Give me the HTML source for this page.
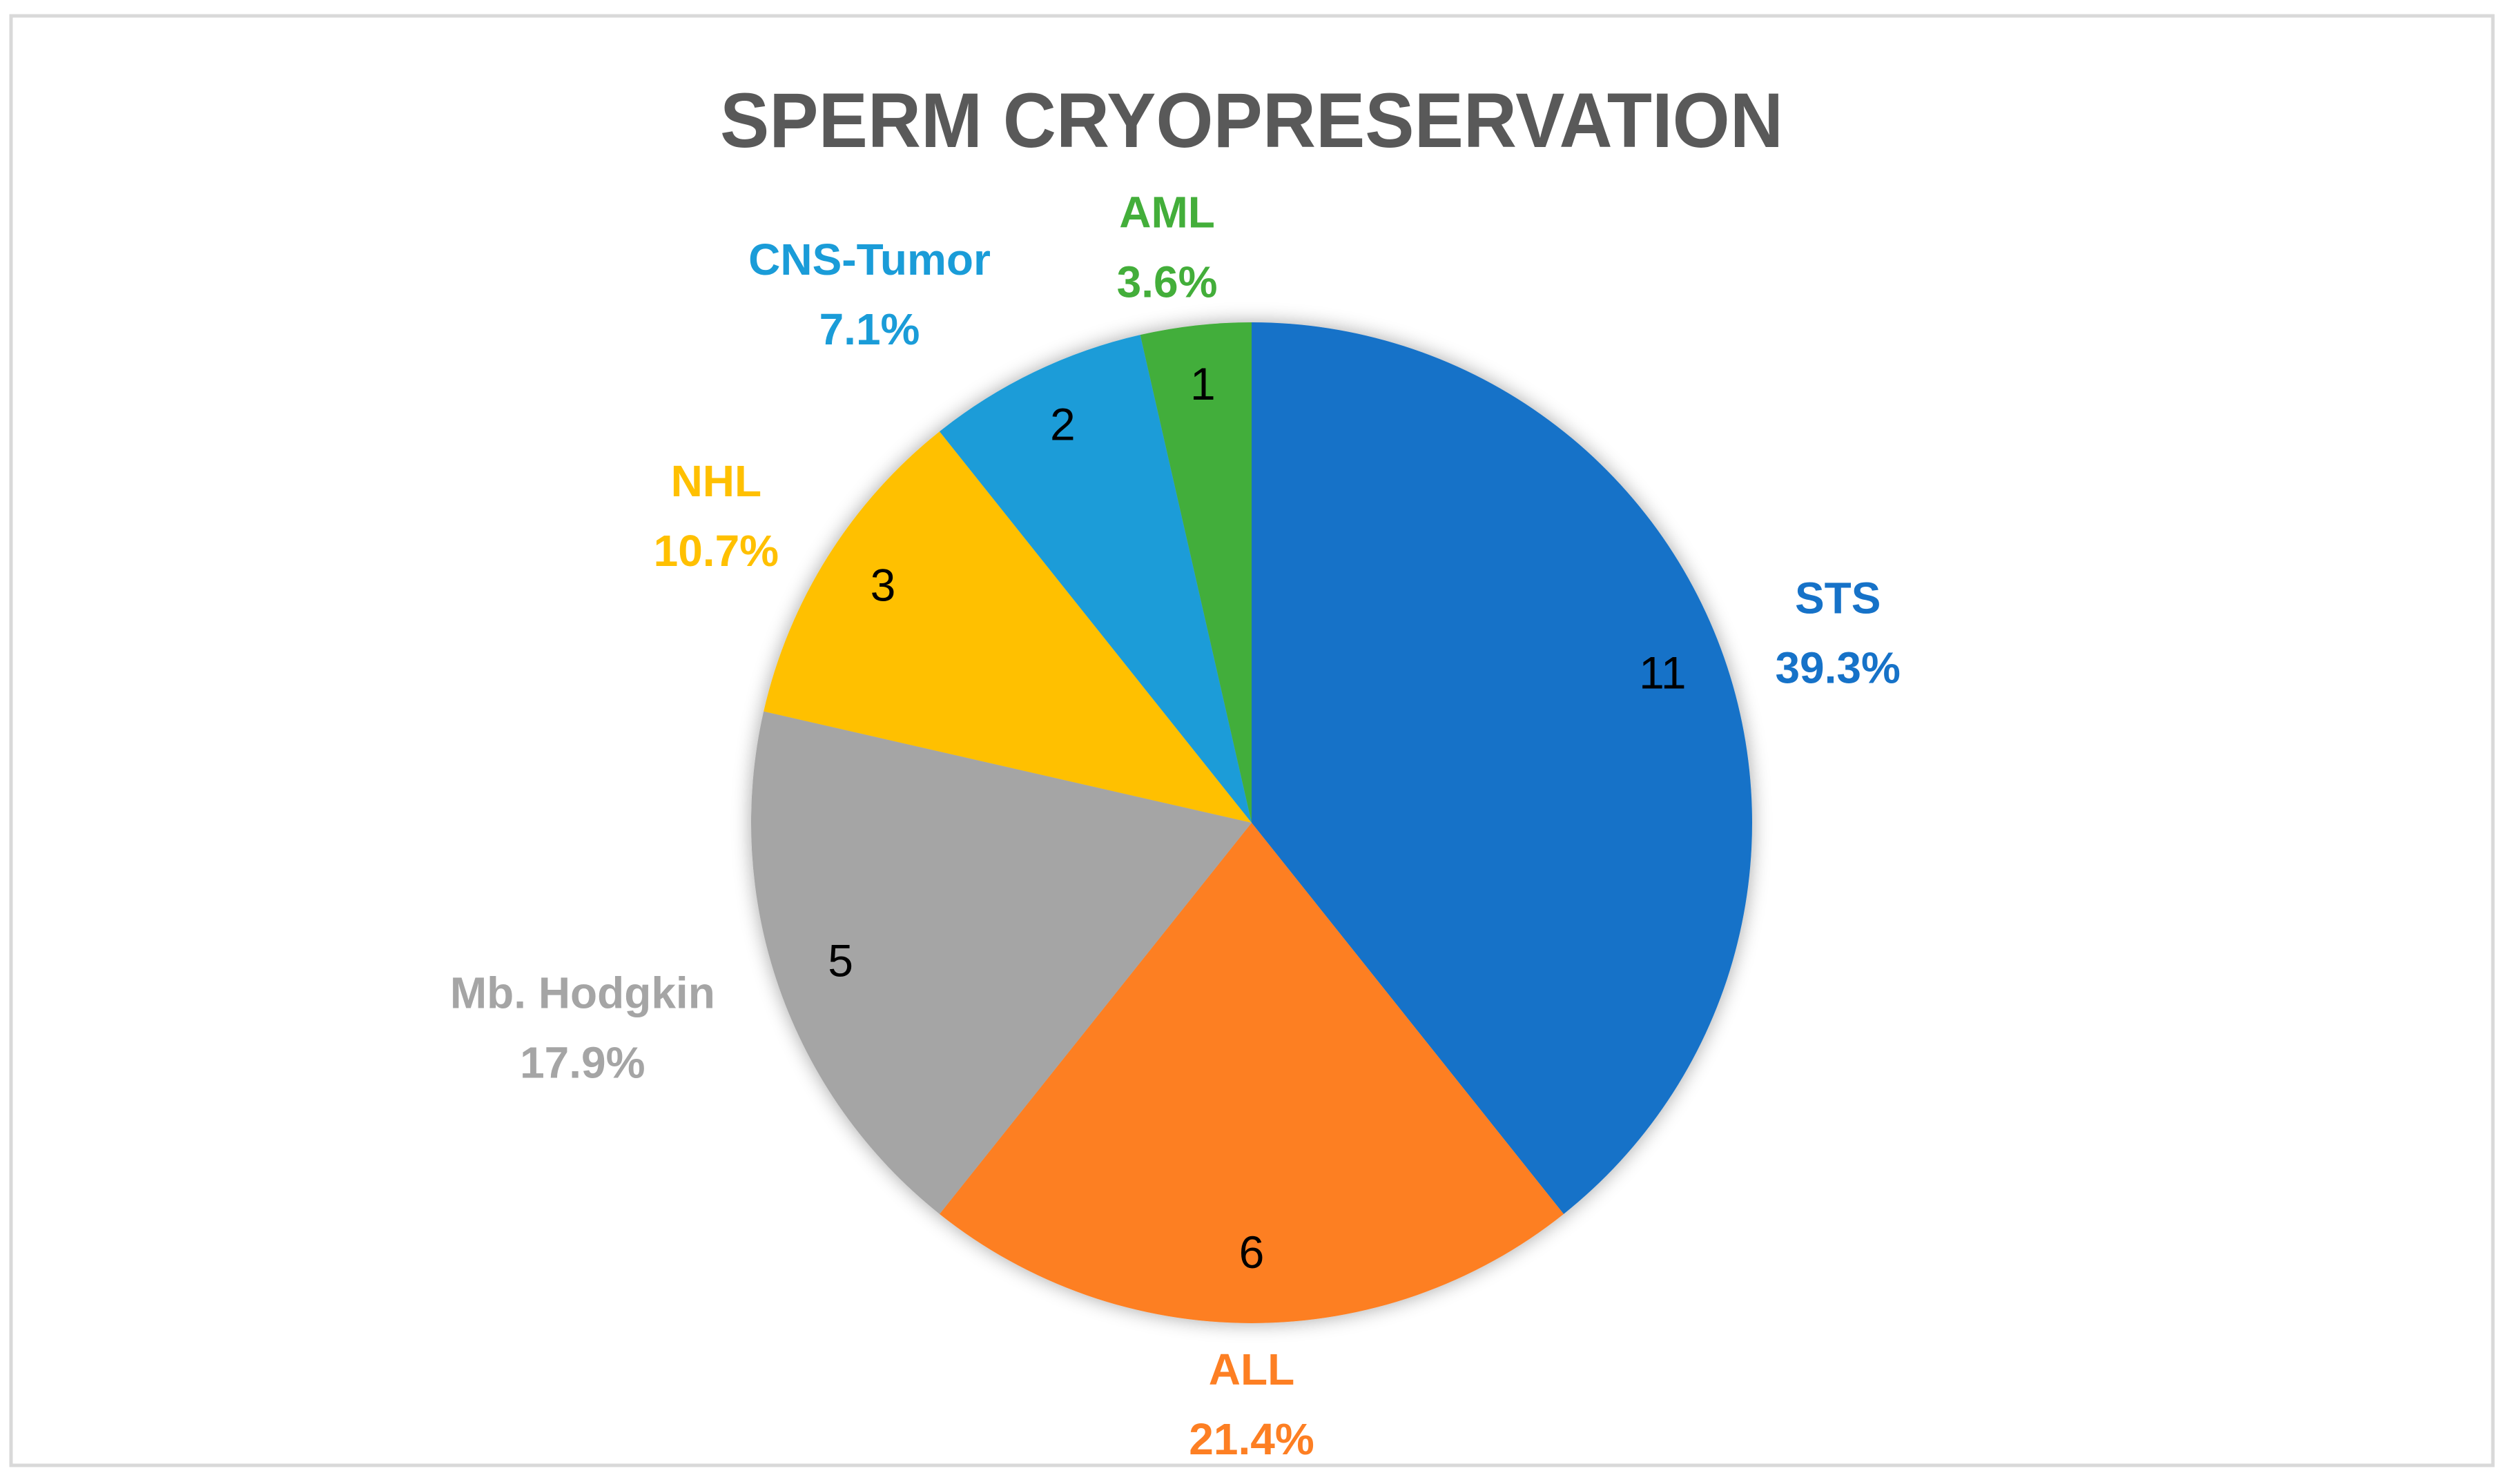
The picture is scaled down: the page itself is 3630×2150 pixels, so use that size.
<!DOCTYPE html>
<html><head><meta charset="utf-8"><style>
html,body{margin:0;padding:0;background:#fff;}
svg{display:block;font-family:"Liberation Sans",sans-serif;}
</style></head><body>
<svg width="3630" height="2150" viewBox="0 0 3630 2150">
<defs><filter id="sh" x="-20%" y="-20%" width="140%" height="140%"><feGaussianBlur in="SourceAlpha" stdDeviation="14"/><feOffset dx="0" dy="0"/><feComponentTransfer><feFuncA type="linear" slope="0.35"/></feComponentTransfer><feMerge><feMergeNode/><feMergeNode in="SourceGraphic"/></feMerge></filter></defs>
<rect x="16" y="23" width="3595" height="2100" fill="#fff" stroke="#d9d9d9" stroke-width="5"/>
<text x="1813" y="213" text-anchor="middle" font-size="112" font-weight="bold" fill="#595959" textLength="1540" lengthAdjust="spacingAndGlyphs">SPERM CRYOPRESERVATION</text>
<g id="slices" filter="url(#sh)"></g>
<g id="labels"></g>
</svg>
<script>
const categories=["STS","ALL","Mb. Hodgkin","NHL","CNS-Tumor","AML"];
const values=[11,6,5,3,2,1];
const colors=["#1672C8","#FD7F23","#A5A5A5","#FFC000","#1A9CD8","#43AE3A"];
const labelColors=["#1672C8","#FD7F23","#A5A5A5","#FFC000","#1A9CD8","#43AE3A"];
const nudgeX=[28,0,-148,-39,-176,-25];
const nudgeY=[12,-28,9,18,18,30];
const CX=1813,CY=1192,R=725;
const NS="http://www.w3.org/2000/svg";
const total=values.reduce((a,b)=>a+b,0);
const gS=document.getElementById('slices'),gL=document.getElementById('labels');
function pt(a,r){return [CX+r*Math.sin(a),CY-r*Math.cos(a)];}
let acc=0;
values.forEach((v,i)=>{
  const a0=acc/total*2*Math.PI; acc+=v; const a1=acc/total*2*Math.PI;
  const p0=pt(a0,R),p1=pt(a1,R),large=(a1-a0)>Math.PI?1:0;
  const p=document.createElementNS(NS,'path');
  p.setAttribute('d',`M${CX},${CY} L${p0[0]},${p0[1]} A${R},${R} 0 ${large} 1 ${p1[0]},${p1[1]} Z`);
  p.setAttribute('fill',colors[i]);
  
  
  gS.appendChild(p);
  const am=(a0+a1)/2;
  const vp=pt(am,R*0.87);
  const t=document.createElementNS(NS,'text');
  t.setAttribute('x',vp[0]);t.setAttribute('y',vp[1]+14);
  t.setAttribute('text-anchor','middle');t.setAttribute('font-size','66');t.setAttribute('fill','#000');
  t.textContent=v;
  
  
  gL.appendChild(t);
  const lp=pt(am,R*1.2);
  const pct=(v/total*100).toFixed(1)+'%';
  [categories[i],pct].forEach((s,k)=>{
    const tt=document.createElementNS(NS,'text');
    tt.setAttribute('x',lp[0]+nudgeX[i]);tt.setAttribute('y',lp[1]-28+nudgeY[i]+k*101);
    tt.setAttribute('text-anchor','middle');tt.setAttribute('font-size','64');tt.setAttribute('font-weight','bold');
    tt.setAttribute('fill',labelColors[i]);
    tt.textContent=s;
    
    
    gL.appendChild(tt);
  });
});
</script>
</body></html>
